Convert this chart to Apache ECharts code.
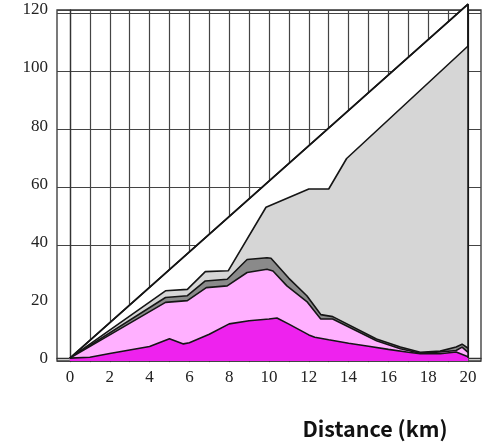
<!DOCTYPE html>
<html>
<head>
<meta charset="utf-8">
<script src="https://cdn.jsdelivr.net/npm/echarts@6/dist/echarts.min.js"></script>
<style>html,body{margin:0;padding:0;background:#fff;}#c{width:490px;height:442px;}</style>
</head>
<body>
<div id="c"></div>
<script>
// Cumulative boundary of each stacked band, [distance km, value]
var totalTop = [[0, 0], [20, 122], [20, 0]];
var lightGrayTop = [[0, 0], [4.8, 23.2], [5.9, 23.7], [6.8, 29.8], [7.95, 30.1], [9.85, 52], [12, 58.3], [13, 58.3], [13.9, 68.8], [20, 107.6]];
var darkGrayTop = [[0, 0], [4.8, 20.9], [5.9, 21.5], [6.8, 26.6], [7.9, 27.2], [8.9, 34], [9.9, 34.6], [10.1, 34.4], [11, 27.5], [11.9, 21.5], [12.6, 15.0], [13.2, 14.3], [15.4, 6.6], [16.6, 3.8], [17.6, 2], [18.6, 2.4], [19.4, 3.8], [19.7, 4.8], [20, 3.4]];
var pinkTop = [[0, 0], [4.8, 19.2], [5.9, 19.8], [6.85, 24.3], [7.9, 24.9], [8.9, 29.5], [9.9, 30.6], [10.2, 30], [10.9, 24.9], [11.9, 19.5], [12.6, 13.5], [13.2, 13.5], [15.4, 6], [16.6, 3.2], [17.6, 1.7], [18.6, 2.1], [19.4, 2.6], [19.7, 3.8], [20, 2]];
var magentaTop = [[0, 0], [1, 0.3], [2, 1.6], [3, 2.8], [4, 4.0], [5, 6.7], [5.7, 4.9], [6, 5.3], [7, 8.2], [8, 11.8], [9, 12.9], [10, 13.5], [10.4, 13.8], [11, 11.7], [12, 8.0], [12.3, 7.2], [13, 6.3], [14, 5.1], [15, 4.1], [16, 3.0], [17, 2.0], [17.6, 1.5], [18.6, 1.5], [19.4, 2.1], [20, 0.5]];
var xTickLabels = [0, 2, 4, 6, 8, 10, 12, 14, 16, 18, 20];
var xTicks = [0, 1, 2, 3, 4, 5, 6, 7, 8, 9, 10, 11, 12, 13, 14, 15, 16, 17, 18, 19, 20];
var yTickLabels = [0, 20, 40, 60, 80, 100, 120];
var xTitle = 'Distance (km)';

var lineStyle = {color: '#151515', width: 1.6};
function band(data, fill, z) {
  return {
    type: 'line', data: data, symbol: 'none', z: z, clip: false,
    lineStyle: lineStyle,
    areaStyle: {color: fill, opacity: 1, origin: 'start'}
  };
}
var gridCol = '#444';
var chart = echarts.init(document.getElementById('c'), null, {renderer: 'canvas'});
chart.setOption({
  animation: false,
  backgroundColor: '#fff',
  title: {
    text: xTitle, left: 370, top: 413, textAlign: 'center',
    textStyle: {fontFamily: 'Noto Sans CJK KR', fontWeight: 'bold', fontSize: 21.5, color: '#111'}
  },
  grid: {left: 57, right: 9, top: 10, bottom: 81, show: true, borderColor: '#333', borderWidth: 1.3, backgroundColor: 'transparent'},
  xAxis: {
    type: 'value', min: -0.65, max: 20.65, interval: 1,
    axisLine: {show: true, lineStyle: {color: '#333', width: 1.3}},
    axisTick: {show: true, length: 4, lineStyle: {color: '#333'}, customValues: xTicks},
    axisLabel: {
      customValues: xTickLabels, margin: 8,
      fontFamily: 'Liberation Serif', fontSize: 17, color: '#222',
      formatter: function (v) { return (v >= 0 && v % 2 === 0) ? String(v) : ''; }
    },
    splitLine: {show: true, lineStyle: {color: gridCol, width: 1.2}}
  },
  yAxis: {
    type: 'value', min: -1, max: 120, interval: 20,
    axisLine: {show: true, lineStyle: {color: '#333', width: 1.3}},
    axisTick: {show: false},
    axisLabel: {
      customValues: yTickLabels, margin: 9,
      fontFamily: 'Liberation Serif', fontSize: 17, color: '#222',
      formatter: function (v) { return v >= 0 ? String(v) : ''; }
    },
    splitLine: {show: true, lineStyle: {color: [gridCol, 'rgba(0,0,0,0)', gridCol, gridCol, gridCol, gridCol, gridCol, gridCol], width: 1.2}}
  },
  series: [
    band(totalTop, '#ffffff', 2),
    band(lightGrayTop, '#d6d6d6', 3),
    band(darkGrayTop, '#8a8a8a', 4),
    band(pinkTop, '#ffb0ff', 5),
    band(magentaTop, '#ee22ee', 6),
    {type: 'line', data: totalTop, symbol: 'none', z: 7, clip: false, lineStyle: lineStyle}
  ]
});
</script>
</body>
</html>
